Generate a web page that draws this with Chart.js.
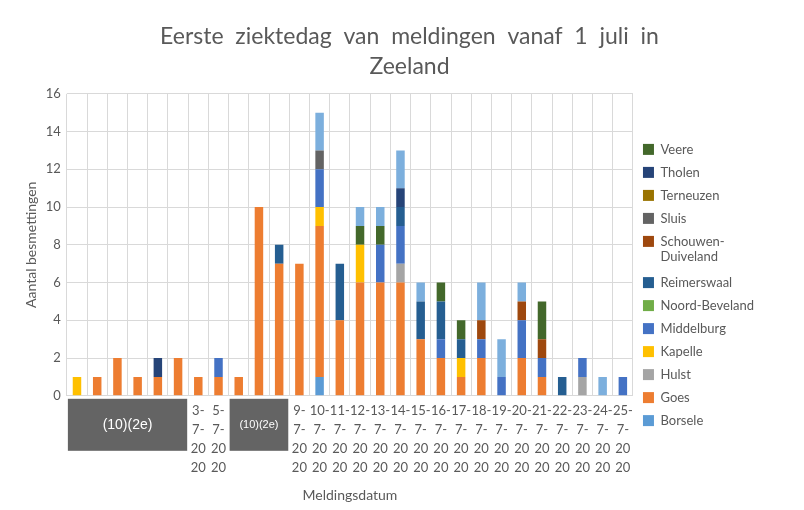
<!DOCTYPE html>
<html lang="nl">
<head>
    <meta charset="UTF-8">
    <title>Eerste ziektedag Zeeland</title>
    <style>
        body { margin: 0; background: #fff; }
        #wrap { width: 804px; height: 510px; }
    </style>
</head>
<body>
    <div id="wrap"><canvas id="chartId" width="804" height="510"></canvas></div>
    <script src="https://cdn.jsdelivr.net/npm/chart.js@4/dist/chart.umd.min.js"></script>
    <script>
        // '' = weggelakte datum (10)(2e)
        const dates = ['', '', '', '', '', '', '3-7-2020', '5-7-2020', '', '', '', '9-7-2020',
            '10-7-2020', '11-7-2020', '12-7-2020', '13-7-2020', '14-7-2020', '15-7-2020', '16-7-2020',
            '17-7-2020', '18-7-2020', '19-7-2020', '20-7-2020', '21-7-2020', '22-7-2020', '23-7-2020',
            '24-7-2020', '25-7-2020'];
        const redacted = [[0, 5], [8, 10]];

        const borsele       = [0,0,0,0,0,0,0,0,0,0,0,0, 1,0,0,0,0,0,0,0,0,0,0,0,0,0,0,0];
        const goes          = [0,1,2,1,1,2,1,1,1,10,7,7, 8,4,6,6,6,3,2,1,2,0,2,1,0,0,0,0];
        const hulst         = [0,0,0,0,0,0,0,0,0,0,0,0, 0,0,0,0,1,0,0,0,0,0,0,0,0,1,0,0];
        const kapelle       = [1,0,0,0,0,0,0,0,0,0,0,0, 1,0,2,0,0,0,0,1,0,0,0,0,0,0,0,0];
        const middelburg    = [0,0,0,0,0,0,0,1,0,0,0,0, 2,0,0,2,2,0,1,0,1,1,2,1,0,1,0,1];
        const noordBeveland = [0,0,0,0,0,0,0,0,0,0,0,0, 0,0,0,0,0,0,0,0,0,0,0,0,0,0,0,0];
        const reimerswaal   = [0,0,0,0,0,0,0,0,0,0,1,0, 0,3,0,0,1,2,2,1,0,0,0,0,1,0,0,0];
        const schouwen      = [0,0,0,0,0,0,0,0,0,0,0,0, 0,0,0,0,0,0,0,0,1,0,1,1,0,0,0,0];
        const sluis         = [0,0,0,0,0,0,0,0,0,0,0,0, 1,0,0,0,0,0,0,0,0,0,0,0,0,0,0,0];
        const terneuzen     = [0,0,0,0,0,0,0,0,0,0,0,0, 0,0,0,0,0,0,0,0,0,0,0,0,0,0,0,0];
        const tholen        = [0,0,0,0,1,0,0,0,0,0,0,0, 0,0,0,0,1,0,0,0,0,0,0,0,0,0,0,0];
        const veere         = [0,0,0,0,0,0,0,0,0,0,0,0, 0,0,1,1,0,0,1,1,0,0,0,2,0,0,0,0];
        const vlissingen    = [0,0,0,0,0,0,0,0,0,0,0,0, 2,0,1,1,2,1,0,0,2,2,1,0,0,0,1,0];

        const yTicks = [0, 2, 4, 6, 8, 10, 12, 14, 16];

        const series = [
            ['Borsele', borsele, '#5B9BD5'],
            ['Goes', goes, '#ED7D31'],
            ['Hulst', hulst, '#A5A5A5'],
            ['Kapelle', kapelle, '#FFC000'],
            ['Middelburg', middelburg, '#4472C4'],
            ['Noord-Beveland', noordBeveland, '#70AD47'],
            ['Reimerswaal', reimerswaal, '#255E91'],
            ['Schouwen-Duiveland', schouwen, '#9E480E'],
            ['Sluis', sluis, '#636363'],
            ['Terneuzen', terneuzen, '#997300'],
            ['Tholen', tholen, '#264478'],
            ['Veere', veere, '#43682B'],
            ['Vlissingen', vlissingen, '#7CAFDD']
        ];

        const labels = dates.map(d => {
            if (!d) return '';
            const p = d.split('-');
            return [p[0] + '-', p[1] + '-', p[2].slice(0, 2), p[2].slice(2)];
        });

        const FONT = 'Lato, "Open Sans", sans-serif';
        const GREY = '#595959';

        // grijze vlakken over de weggelakte datums
        const redactPlugin = {
            id: 'redact',
            afterDraw(chart) {
                const x = chart.scales.x;
                const ctx = chart.ctx;
                const half = (x.getPixelForValue(1) - x.getPixelForValue(0)) / 2;
                redacted.forEach(([a, b]) => {
                    const l = x.getPixelForValue(a) - half + 1;
                    const r = x.getPixelForValue(b) + half - 1;
                    const t = x.top + 3;
                    const h = 52;
                    ctx.save();
                    ctx.fillStyle = '#646464';
                    ctx.fillRect(l, t, r - l, h);
                    ctx.fillStyle = '#ffffff';
                    ctx.font = (r - l > 80 ? 14 : 11) + 'px "Liberation Sans", Arial, sans-serif';
                    ctx.textAlign = 'center';
                    ctx.textBaseline = 'middle';
                    ctx.fillText('(10)(2e)', (l + r) / 2, t + h / 2);
                    ctx.restore();
                });
            }
        };

        // legenda wat breder en lager zetten, zoals in Excel
        const legendPlace = {
            id: 'legendPlace',
            beforeInit(chart) {
                const fit = chart.legend.fit;
                chart.legend.fit = function () {
                    fit.call(this);
                    this.width += 32;
                };
            },
            afterLayout(chart) {
                chart.legend.top += 31;
                chart.legend.bottom += 31;
            }
        };

        const ctx = document.getElementById('chartId').getContext('2d');
        const myChart = new Chart(ctx, {
            type: 'bar',
            data: {
                labels: labels,
                datasets: series.map(([name, data, color]) => ({
                    label: name,
                    data: data,
                    backgroundColor: color,
                    borderWidth: 0,
                    categoryPercentage: 1,
                    barPercentage: 0.42
                }))
            },
            options: {
                responsive: false,
                animation: false,
                layout: { padding: { left: 23, right: 8, bottom: 6, top: 4 } },
                plugins: {
                    title: {
                        display: true,
                        text: ['Eerste  ziektedag  van  meldingen  vanaf  1  juli  in', 'Zeeland'],
                        color: GREY,
                        font: { family: FONT, size: 23, weight: 'normal', lineHeight: 1.3 },
                        padding: { top: 18, bottom: 12 }
                    },
                    legend: {
                        position: 'right',
                        reverse: true,
                        labels: {
                            color: GREY,
                            font: { family: FONT, size: 13 },
                            boxWidth: 11,
                            boxHeight: 11,
                            padding: 10,
                            filter: item => item.text !== 'Vlissingen',
                            generateLabels(chart) {
                                const items = Chart.defaults.plugins.legend.labels.generateLabels(chart);
                                items.forEach(it => {
                                    if (it.text === 'Schouwen-Duiveland') it.text = ['Schouwen-', 'Duiveland'];
                                });
                                return items;
                            }
                        }
                    },
                    tooltip: { enabled: false }
                },
                scales: {
                    x: {
                        stacked: true,
                        grid: { color: '#D9D9D9', offset: true, drawTicks: false },
                        border: { color: '#D9D9D9' },
                        ticks: {
                            color: GREY,
                            font: { family: FONT, size: 13, lineHeight: 1.45 },
                            maxRotation: 0,
                            autoSkip: false,
                            padding: 6
                        },
                        title: {
                            display: true,
                            text: 'Meldingsdatum',
                            color: GREY,
                            font: { family: FONT, size: 14 },
                            padding: { top: 4, bottom: 0 }
                        }
                    },
                    y: {
                        stacked: true,
                        min: yTicks[0],
                        max: yTicks[yTicks.length - 1],
                        grid: { color: '#D9D9D9', drawTicks: false },
                        border: { display: false },
                        afterBuildTicks: axis => { axis.ticks = yTicks.map(v => ({ value: v })); },
                        ticks: {
                            color: GREY,
                            font: { family: FONT, size: 13 },
                            padding: 6
                        },
                        title: {
                            display: true,
                            text: 'Aantal besmettingen',
                            color: GREY,
                            font: { family: FONT, size: 14 },
                            padding: { top: 0, bottom: 0 }
                        }
                    }
                }
            },
            plugins: [redactPlugin, legendPlace]
        });
    </script>
</body>
</html>
